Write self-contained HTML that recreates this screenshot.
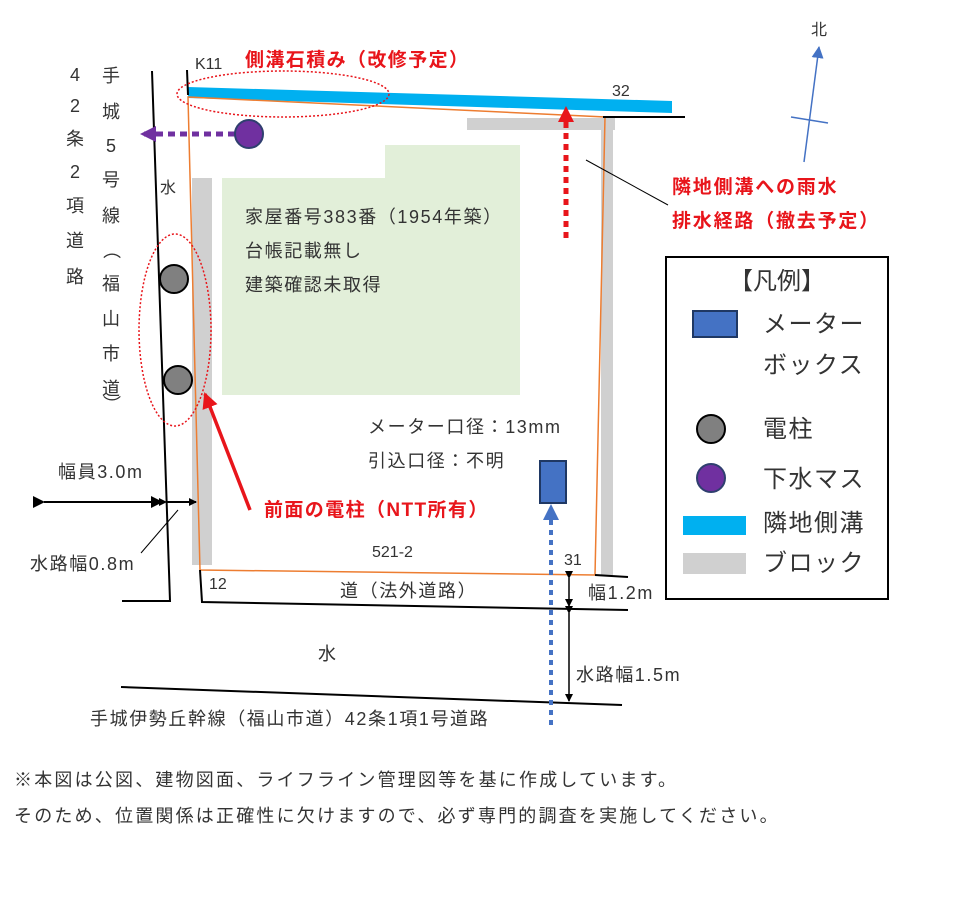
<!DOCTYPE html>
<html><head><meta charset="utf-8"><style>
html,body{margin:0;padding:0;background:#fff;}
svg{display:block;}
text{font-family:"Liberation Sans","Noto Sans CJK JP",sans-serif;fill:#333;}
.r{fill:#e8151b;font-weight:bold;font-size:19px;letter-spacing:1.4px;}
.t{font-size:18px;letter-spacing:1.6px;}
</style></head><body>
<svg width="960" height="924" viewBox="0 0 960 924" xmlns="http://www.w3.org/2000/svg">
<defs>
<marker id="ab" markerWidth="8" markerHeight="8" refX="7" refY="4" orient="auto" markerUnits="userSpaceOnUse"><path d="M0,0 L8,4 L0,8 z" fill="#000"/></marker>
<marker id="ab2" markerWidth="12" markerHeight="12" refX="11" refY="6" orient="auto" markerUnits="userSpaceOnUse"><path d="M0,0 L12,6 L0,12 z" fill="#000"/></marker>
<marker id="ar" markerWidth="16" markerHeight="16" refX="14" refY="8" orient="auto" markerUnits="userSpaceOnUse"><path d="M0,0 L16,8 L0,16 z" fill="#e8151b"/></marker>
<marker id="ap" markerWidth="16" markerHeight="16" refX="14" refY="8" orient="auto" markerUnits="userSpaceOnUse"><path d="M0,0 L16,8 L0,16 z" fill="#7030a0"/></marker>
<marker id="abl" markerWidth="16" markerHeight="16" refX="14" refY="8" orient="auto" markerUnits="userSpaceOnUse"><path d="M0,0 L16,8 L0,16 z" fill="#4472c4"/></marker>
<marker id="an" markerWidth="12" markerHeight="12" refX="11" refY="6" orient="auto" markerUnits="userSpaceOnUse"><path d="M0,0 L12,6 L0,12 z" fill="#4472c4"/></marker>
</defs>

<path d="M222,178 L385,178 L385,145 L520,145 L520,395 L222,395 z" fill="#e2efd9"/>
<rect x="192" y="178" width="20" height="387" fill="#d0d0d0"/>
<rect x="467" y="118" width="148" height="12" fill="#d0d0d0"/>
<rect x="601" y="122" width="12" height="453" fill="#d0d0d0"/>
<polygon points="188,87 672,101 672,113 188,98" fill="#00b0f0"/>
<polygon points="188,97 605,117 595,575 200,570" fill="none" stroke="#ed7d31" stroke-width="1.5"/>
<polyline points="152,71 170,601 122,601" fill="none" stroke="#000" stroke-width="2"/>
<line x1="187" y1="70" x2="188" y2="95" stroke="#000" stroke-width="2"/>
<polyline points="200,570 202,602 628,610" fill="none" stroke="#000" stroke-width="2"/>
<line x1="595" y1="575" x2="628" y2="577" stroke="#000" stroke-width="2"/>
<line x1="603" y1="117" x2="685" y2="117" stroke="#000" stroke-width="2"/>
<line x1="121" y1="687" x2="622" y2="705" stroke="#000" stroke-width="2"/>

<ellipse cx="283" cy="94" rx="106" ry="23" fill="none" stroke="#e8151b" stroke-width="1.5" stroke-dasharray="2,2"/>
<ellipse cx="175" cy="330" rx="36" ry="96" fill="none" stroke="#e8151b" stroke-width="1.5" stroke-dasharray="2,2"/>

<line x1="235" y1="134" x2="142" y2="134" stroke="#7030a0" stroke-width="5" stroke-dasharray="7,5" marker-end="url(#ap)"/>
<circle cx="249" cy="134" r="14" fill="#7030a0" stroke="#2f3f6f" stroke-width="2"/>
<circle cx="174" cy="279" r="14" fill="#808080" stroke="#000" stroke-width="2"/>
<circle cx="178" cy="380" r="14" fill="#808080" stroke="#000" stroke-width="2"/>

<line x1="566" y1="238" x2="566" y2="108" stroke="#e8151b" stroke-width="5" stroke-dasharray="6,5" marker-end="url(#ar)"/>
<line x1="586" y1="160" x2="668" y2="205" stroke="#000" stroke-width="1"/>
<line x1="250" y1="510" x2="205" y2="394" stroke="#e8151b" stroke-width="3.5" marker-end="url(#ar)"/>

<rect x="540" y="461" width="26" height="42" fill="#4472c4" stroke="#1f3864" stroke-width="2"/>
<line x1="551" y1="725" x2="551" y2="506" stroke="#4472c4" stroke-width="4" stroke-dasharray="5,5" marker-end="url(#abl)"/>

<line x1="44" y1="502" x2="162" y2="502" stroke="#000" stroke-width="2" marker-start="url(#ab2)" marker-end="url(#ab2)"/>
<line x1="166" y1="502" x2="196" y2="502" stroke="#000" stroke-width="2" marker-start="url(#ab)" marker-end="url(#ab)"/>
<line x1="178" y1="510" x2="141" y2="553" stroke="#000" stroke-width="1"/>
<line x1="569" y1="578" x2="569" y2="606" stroke="#000" stroke-width="1.5" marker-start="url(#ab)" marker-end="url(#ab)"/>
<line x1="569" y1="613" x2="569" y2="701" stroke="#000" stroke-width="1.5" marker-start="url(#ab)" marker-end="url(#ab)"/>

<line x1="804" y1="162" x2="819" y2="47" stroke="#4472c4" stroke-width="1.5" marker-end="url(#an)"/>
<line x1="791" y1="117" x2="828" y2="123" stroke="#4472c4" stroke-width="1.5"/>
<text x="811" y="35" font-size="16">北</text>

<rect x="666" y="257" width="222" height="342" fill="#fff" stroke="#000" stroke-width="2"/>
<text x="777" y="289" font-size="24" text-anchor="middle">【凡例】</text>
<rect x="693" y="311" width="44" height="26" fill="#4472c4" stroke="#1f3864" stroke-width="2"/>
<text x="763" y="332" font-size="24" letter-spacing="1.5">メーター</text>
<text x="763" y="373" font-size="24" letter-spacing="1.5">ボックス</text>
<circle cx="711" cy="429" r="14" fill="#808080" stroke="#000" stroke-width="2"/>
<text x="763" y="437" font-size="24" letter-spacing="1.5">電柱</text>
<circle cx="711" cy="478" r="14" fill="#7030a0" stroke="#2f3f6f" stroke-width="2"/>
<text x="763" y="487" font-size="24" letter-spacing="1.5">下水マス</text>
<rect x="683" y="516" width="63" height="19" fill="#00b0f0"/>
<text x="763" y="531" font-size="24" letter-spacing="1.5">隣地側溝</text>
<rect x="683" y="553" width="63" height="21" fill="#d0d0d0"/>
<text x="763" y="571" font-size="24" letter-spacing="1.5">ブロック</text>

<text x="195" y="69" font-size="16" fill="#000">K11</text>
<text class="r" x="245" y="66">側溝石積み（改修予定）</text>
<text x="612" y="96" font-size="16" fill="#000">32</text>
<text class="r" x="672" y="193" style="letter-spacing:1.8px">隣地側溝への雨水</text>
<text class="r" x="672" y="227" style="letter-spacing:1.8px">排水経路（撤去予定）</text>
<text class="t" x="245" y="223">家屋番号383番（1954年築）</text>
<text class="t" x="245" y="257">台帳記載無し</text>
<text class="t" x="245" y="291">建築確認未取得</text>
<text class="t" x="368" y="433">メーター口径：13mm</text>
<text class="t" x="368" y="467">引込口径：不明</text>
<text class="r" x="264" y="516">前面の電柱（NTT所有）</text>
<text x="372" y="557" font-size="16" fill="#000">521-2</text>
<text x="564" y="565" font-size="16" fill="#000">31</text>
<text x="209" y="589" font-size="16" fill="#000">12</text>
<text class="t" x="340" y="597">道（法外道路）</text>
<text class="t" x="588" y="599">幅1.2m</text>
<text class="t" x="318" y="660">水</text>
<text class="t" x="576" y="681">水路幅1.5m</text>
<text class="t" x="90" y="725">手城伊勢丘幹線（福山市道）42条1項1号道路</text>
<text x="160" y="193" font-size="16">水</text>
<text class="t" x="58" y="478">幅員3.0m</text>
<text class="t" x="30" y="570">水路幅0.8m</text>
<g font-size="18" text-anchor="middle">
<text x="75" y="81">4</text><text x="75" y="112">2</text><text x="75" y="145">条</text><text x="75" y="178">2</text><text x="75" y="212">項</text><text x="75" y="247">道</text><text x="75" y="283">路</text>
<text x="111" y="82">手</text><text x="111" y="118">城</text><text x="111" y="152">5</text><text x="111" y="186">号</text><text x="111" y="222">線</text><text x="111" y="256" transform="rotate(90 111 250)">（</text><text x="111" y="290">福</text><text x="111" y="325">山</text><text x="111" y="360">市</text><text x="111" y="395">道</text><text x="111" y="410" transform="rotate(90 111 404)">）</text>
</g>
<text x="14" y="786" font-size="18" letter-spacing="2.2">※本図は公図、建物図面、ライフライン管理図等を基に作成しています。</text>
<text x="14" y="822" font-size="18" letter-spacing="2.2">そのため、位置関係は正確性に欠けますので、必ず専門的調査を実施してください。</text>
</svg>
</body></html>
